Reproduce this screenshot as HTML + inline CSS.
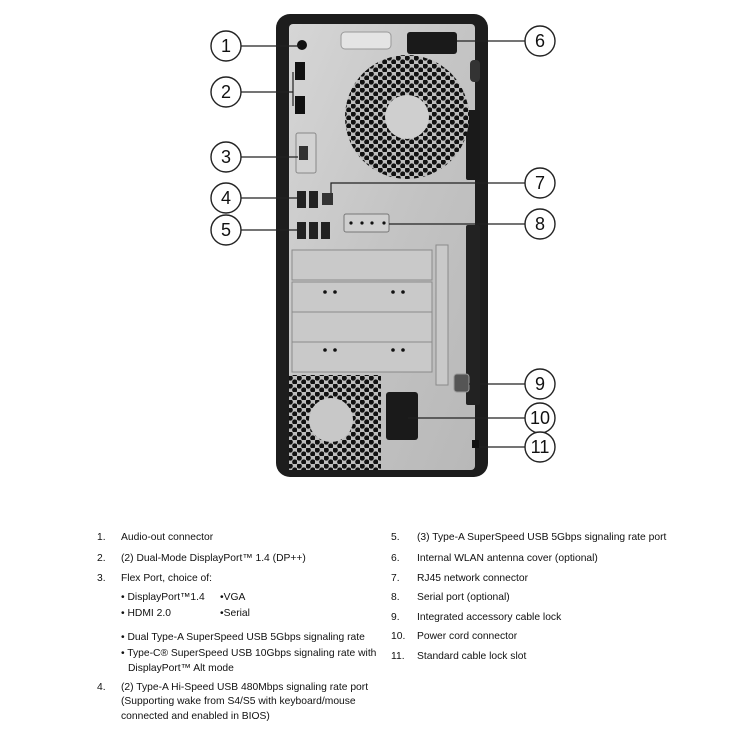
<!DOCTYPE html>
<html><head><meta charset="utf-8"><style>
html,body{margin:0;padding:0;background:#fff;}
svg{display:block}
text{font-family:"Liberation Sans Narrow","Liberation Sans",sans-serif;fill:#111;}
</style></head><body>
<svg width="750" height="750" viewBox="0 0 750 750" xmlns="http://www.w3.org/2000/svg">
<defs>
<pattern id="hex" width="9" height="8" patternUnits="userSpaceOnUse">
<rect width="9" height="8" fill="#bdbdbd"/>
<circle cx="2.25" cy="2" r="2.6" fill="#111"/>
<circle cx="6.75" cy="6" r="2.6" fill="#111"/>
</pattern>
<linearGradient id="silver" x1="0" y1="0" x2="1" y2="1">
<stop offset="0" stop-color="#d6d6d6"/><stop offset="0.5" stop-color="#c4c4c4"/><stop offset="1" stop-color="#b8b8b8"/>
</linearGradient>
</defs>
<rect x="276" y="14" width="212" height="463" rx="14" fill="#1d1d1d"/>
<rect x="289" y="24" width="186" height="446" rx="4" fill="url(#silver)"/>
<rect x="341" y="32" width="50" height="17" rx="4" fill="#e4e4e4" stroke="#999"/>
<rect x="407" y="32" width="50" height="22" rx="3" fill="#1a1a1a"/>
<rect x="466" y="110" width="14" height="70" rx="2" fill="#1a1a1a"/>
<rect x="466" y="225" width="14" height="180" rx="2" fill="#222"/>
<rect x="470" y="60" width="10" height="22" rx="4" fill="#333"/>
<circle cx="302" cy="45" r="5" fill="#111"/>
<rect x="295" y="62" width="10" height="18" fill="#111"/>
<rect x="295" y="96" width="10" height="18" fill="#111"/>
<rect x="296" y="133" width="20" height="40" rx="2" fill="#d2d2d2" stroke="#888"/>
<rect x="299" y="146" width="9" height="14" fill="#333"/>
<rect x="297" y="191" width="9" height="17" fill="#222"/><rect x="309" y="191" width="9" height="17" fill="#222"/>
<rect x="322" y="193" width="11" height="12" fill="#333"/>
<rect x="297" y="222" width="9" height="17" fill="#222"/><rect x="309" y="222" width="9" height="17" fill="#222"/><rect x="321" y="222" width="9" height="17" fill="#222"/>
<rect x="344" y="214" width="45" height="18" rx="2" fill="#cfcfcf" stroke="#777"/>
<circle cx="351" cy="223" r="1.6" fill="#111"/><circle cx="362" cy="223" r="1.6" fill="#111"/><circle cx="372" cy="223" r="1.6" fill="#111"/><circle cx="384" cy="223" r="1.6" fill="#111"/>
<circle cx="407" cy="117" r="62" fill="url(#hex)"/>
<circle cx="407" cy="117" r="22" fill="#cfcfcf"/>
<g fill="#c9c9c9" stroke="#8a8a8a" stroke-width="1">
<rect x="292" y="250" width="140" height="30"/>
<rect x="292" y="282" width="140" height="30"/>
<rect x="292" y="312" width="140" height="30"/>
<rect x="292" y="342" width="140" height="30"/>
<rect x="436" y="245" width="12" height="140"/>
</g>
<g fill="#111">
<circle cx="325" cy="292" r="1.8"/><circle cx="335" cy="292" r="1.8"/><circle cx="393" cy="292" r="1.8"/><circle cx="403" cy="292" r="1.8"/>
<circle cx="325" cy="350" r="1.8"/><circle cx="335" cy="350" r="1.8"/><circle cx="393" cy="350" r="1.8"/><circle cx="403" cy="350" r="1.8"/>
</g>
<rect x="289" y="375" width="92" height="95" fill="url(#hex)"/>
<circle cx="331" cy="420" r="22" fill="#c8c8c8"/>
<rect x="386" y="392" width="32" height="48" rx="3" fill="#1a1a1a"/>
<rect x="454" y="374" width="15" height="18" rx="3" fill="#555" stroke="#999"/>
<rect x="472" y="440" width="7" height="8" fill="#111"/>
<g stroke="#222" stroke-width="1.2" fill="none">
<line x1="241" y1="46" x2="300" y2="46"/>
<line x1="241" y1="92" x2="293" y2="92"/><line x1="293" y1="72" x2="293" y2="106"/>
<line x1="241" y1="157" x2="298" y2="157"/>
<line x1="241" y1="198" x2="297" y2="198"/>
<line x1="241" y1="230" x2="297" y2="230"/>
<line x1="457" y1="41" x2="525" y2="41"/>
<polyline points="331,193 331,183 525,183"/>
<line x1="389" y1="224" x2="525" y2="224"/>
<line x1="469" y1="384" x2="525" y2="384"/>
<line x1="408" y1="418" x2="525" y2="418"/>
<line x1="479" y1="447" x2="525" y2="447"/>
</g>
<g fill="#fff" stroke="#222" stroke-width="1.4">
<circle cx="226" cy="46" r="15"/><circle cx="226" cy="92" r="15"/><circle cx="226" cy="157" r="15"/><circle cx="226" cy="198" r="15"/><circle cx="226" cy="230" r="15"/>
<circle cx="540" cy="41" r="15"/><circle cx="540" cy="183" r="15"/><circle cx="540" cy="224" r="15"/><circle cx="540" cy="384" r="15"/><circle cx="540" cy="418" r="15"/><circle cx="540" cy="447" r="15"/>
</g>
<g font-size="18" text-anchor="middle">
<text x="226" y="52">1</text><text x="226" y="98">2</text><text x="226" y="163">3</text><text x="226" y="204">4</text><text x="226" y="236">5</text>
<text x="540" y="47">6</text><text x="540" y="189">7</text><text x="540" y="230">8</text><text x="540" y="390">9</text><text x="540" y="424">10</text><text x="540" y="453">11</text>
</g>
<g font-size="10.3">
<text x="97" y="540">1.</text><text x="121" y="540">Audio-out connector</text>
<text x="97" y="561">2.</text><text x="121" y="561">(2) Dual-Mode DisplayPort™ 1.4 (DP++)</text>
<text x="97" y="581">3.</text><text x="121" y="581">Flex Port, choice of:</text>
<text x="121" y="600">• DisplayPort™1.4</text><text x="220" y="600">•VGA</text>
<text x="121" y="616">• HDMI 2.0</text><text x="220" y="616">•Serial</text>
<text x="121" y="640">• Dual Type-A SuperSpeed USB 5Gbps signaling rate</text>
<text x="121" y="656">• Type-C® SuperSpeed USB 10Gbps signaling rate with</text>
<text x="128" y="671">DisplayPort™ Alt mode</text>
<text x="97" y="690">4.</text><text x="121" y="690">(2) Type-A Hi-Speed USB 480Mbps signaling rate port</text>
<text x="121" y="704">(Supporting wake from S4/S5 with keyboard/mouse</text>
<text x="121" y="719">connected and enabled in BIOS)</text>
<text x="391" y="540">5.</text><text x="417" y="540">(3) Type-A SuperSpeed USB 5Gbps signaling rate port</text>
<text x="391" y="561">6.</text><text x="417" y="561">Internal WLAN antenna cover (optional)</text>
<text x="391" y="581">7.</text><text x="417" y="581">RJ45 network connector</text>
<text x="391" y="600">8.</text><text x="417" y="600">Serial port (optional)</text>
<text x="391" y="620">9.</text><text x="417" y="620">Integrated accessory cable lock</text>
<text x="391" y="639">10.</text><text x="417" y="639">Power cord connector</text>
<text x="391" y="659">11.</text><text x="417" y="659">Standard cable lock slot</text>
</g>
</svg>
</body></html>
